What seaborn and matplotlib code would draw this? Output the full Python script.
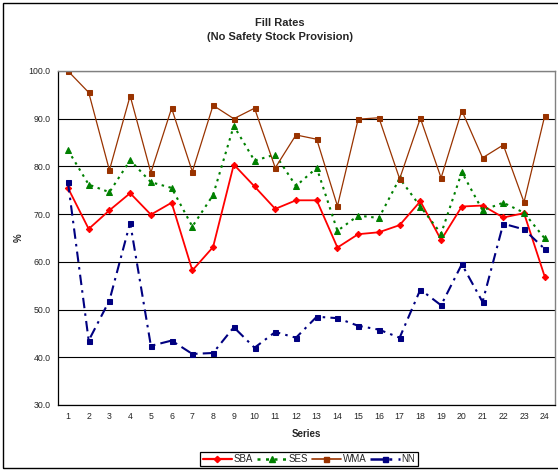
import numpy as np
import pandas as pd
import matplotlib.pyplot as plt
import seaborn as sns
from matplotlib.lines import Line2D
from matplotlib.patches import Rectangle
from matplotlib.ticker import MultipleLocator, FixedLocator

# 1. Data (fill rate %, one value per series 1..24)
series = list(range(1, 25))
sba = [75.5, 66.9, 70.8, 74.4, 69.9, 72.4, 58.2, 63.1, 80.4, 75.8, 71.1, 72.9,
       72.9, 63.0, 65.8, 66.2, 67.7, 72.7, 64.6, 71.6, 71.8, 69.3, 70.2, 56.9]
ses = [83.4, 76.2, 74.6, 81.3, 76.7, 75.5, 67.4, 74.0, 88.5, 81.2, 82.5, 75.9,
       79.7, 66.5, 69.7, 69.2, 77.5, 71.6, 65.9, 78.8, 70.8, 72.4, 70.3, 64.9]
wma = [100.0, 95.5, 79.2, 94.8, 78.7, 92.2, 78.9, 92.8, 90.0, 92.2, 79.7, 86.6,
       85.7, 71.7, 89.9, 90.2, 77.4, 90.1, 77.6, 91.7, 81.8, 84.5, 72.5, 90.6]
nn = [76.7, 43.5, 51.9, 68.2, 42.4, 43.5, 40.7, 40.9, 46.3, 42.0, 45.3, 44.1,
      48.5, 48.2, 46.6, 45.8, 44.1, 54.2, 50.9, 59.5, 51.6, 68.0, 66.8, 62.7]

df = pd.DataFrame({'Series': series, 'SBA': sba, 'SES': ses, 'WMA': wma, 'NN': nn})

# 2. Style
sns.set_style('white')
plt.rcParams['font.family'] = ['Liberation Sans', 'DejaVu Sans']

styles = {
    'SBA': dict(color='#FF0000', marker='D', markersize=3.2, linewidth=1.3, linestyle='-'),
    'SES': dict(color='#008000', marker='^', markersize=4.2, linewidth=1.5, linestyle=(0, (1.2, 2.2))),
    'WMA': dict(color='#993300', marker='s', markersize=3.6, linewidth=0.9, linestyle='-'),
    'NN': dict(color='#000080', marker='s', markersize=3.6, linewidth=1.5, linestyle=(0, (5, 2.5, 1.2, 2.5))),
}

fig = plt.figure(figsize=(5.58, 4.70), dpi=100)
ax = fig.add_axes([57.6 / 558, 1 - 405 / 470, 497.5 / 558, 334 / 470])

# 3. Lines
for name, st in styles.items():
    sns.lineplot(data=df, x='Series', y=name, ax=ax, color=st['color'],
                 linewidth=st['linewidth'], linestyle=st['linestyle'],
                 marker=st['marker'], markersize=st['markersize'],
                 markeredgecolor=st['color'], markerfacecolor=st['color'],
                 label=name, legend=False)

# 4. Axes formatting
ax.set_xlim(0.5, 24.5)
ax.set_ylim(30, 100)
ax.yaxis.set_major_locator(MultipleLocator(10))
ax.set_yticklabels([f'{v:.1f}' for v in ax.get_yticks()])
ax.grid(axis='y', color='#000000', linewidth=0.8)
ax.grid(axis='x', visible=False)

ax.xaxis.set_major_locator(FixedLocator(np.arange(0.5, 25, 1)))
ax.xaxis.set_minor_locator(FixedLocator(series))
ax.xaxis.set_major_formatter(plt.NullFormatter())
ax.set_xticks(series, minor=True)
ax.set_xticklabels([str(s) for s in series], minor=True)
ax.tick_params(axis='x', which='major', direction='out', length=2.5, width=0.8, color='black')
ax.tick_params(axis='x', which='minor', length=0, pad=5, labelsize=6.3)
ax.tick_params(axis='y', direction='out', length=2.2, width=0.8, color='black', pad=3, labelsize=6.3)

for side in ['left', 'bottom']:
    ax.spines[side].set_color('black')
    ax.spines[side].set_linewidth(0.9)
for side in ['top', 'right']:
    ax.spines[side].set_visible(True)
    ax.spines[side].set_color('#808080')
    ax.spines[side].set_linewidth(1.0)

ax.set_xlabel('Series', fontsize=7, fontweight='bold')
ax.xaxis.set_label_coords(0.5, -(429 - 405) / 334)
ax.set_ylabel('')
fig.text(19 / 558, 1 - 238 / 470, '%', rotation=90, ha='center', va='center',
         fontsize=7, fontweight='bold')

# 5. Titles
fig.text(280 / 558, 1 - 22.5 / 470, 'Fill Rates', ha='center', va='center',
         fontsize=8, fontweight='bold')
fig.text(280 / 558, 1 - 36.5 / 470, '(No Safety Stock Provision)', ha='center', va='center',
         fontsize=8, fontweight='bold')

# 6. Legend
handles = [Line2D([], [], color=st['color'], linewidth=st['linewidth'] + 0.3,
                  linestyle=st['linestyle'], marker=st['marker'], markersize=st['markersize'])
           for st in styles.values()]
leg = fig.legend(handles, list(styles.keys()), loc='center',
                 bbox_to_anchor=(309 / 558, 1 - 459 / 470), ncol=4, fontsize=7,
                 frameon=True, fancybox=False, framealpha=1, edgecolor='black',
                 handlelength=3.0, handletextpad=0.2, columnspacing=0.4,
                 borderpad=0.25, borderaxespad=0)
leg.get_frame().set_linewidth(0.9)

# 7. Outer chart border
fig.add_artist(Rectangle((3 / 558, 2 / 470), 1.0, 465 / 470, transform=fig.transFigure,
                         fill=False, edgecolor='black', linewidth=1.0, clip_on=False))

fig.savefig('out.png', dpi=100)
